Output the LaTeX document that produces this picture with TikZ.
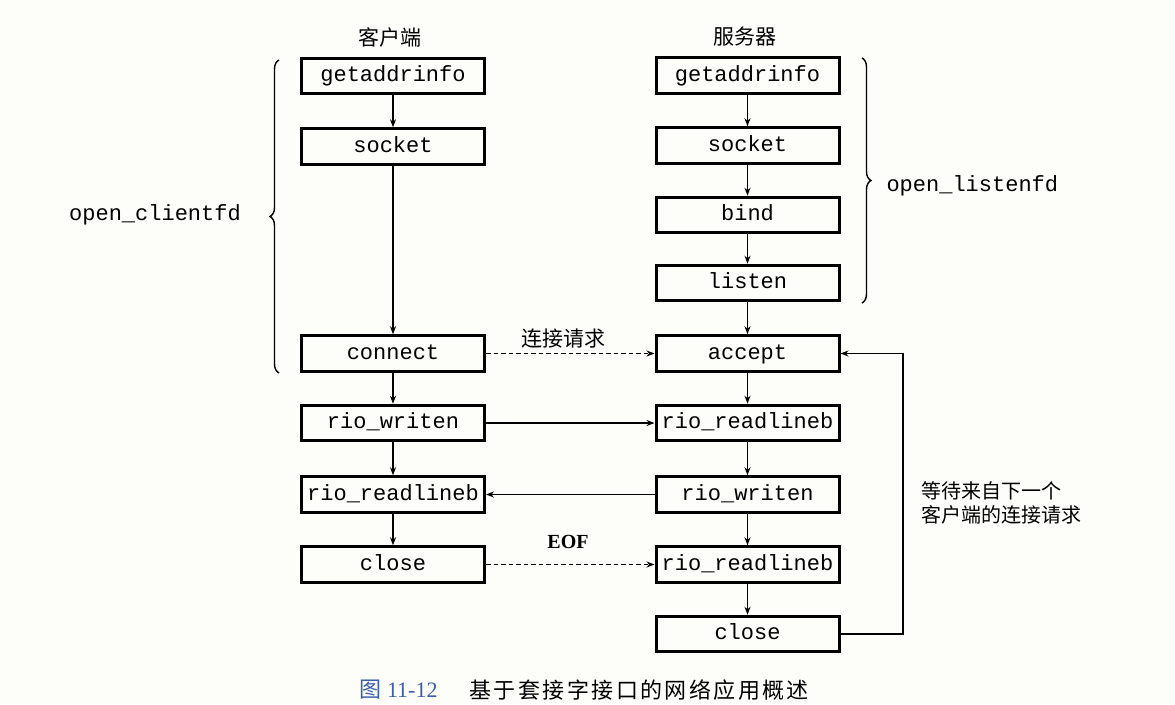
\documentclass[tikz,border=0pt]{standalone}
\usepackage{fontspec}
\setmainfont{Liberation Serif}
\setmonofont{Liberation Mono}
\newfontfamily\cjk{Noto Sans CJK SC}
\usetikzlibrary{arrows.meta,decorations.pathreplacing}
\definecolor{bg}{RGB}{253,253,250}
\definecolor{capblue}{RGB}{60,95,170}
\begin{document}
\begin{tikzpicture}[x=1pt,y=-1pt,
  fn/.style={draw, line width=3pt, minimum width=183pt, minimum height=35.5pt, inner sep=0pt,
    font=\fontsize{22}{26}\selectfont\ttfamily, text height=14pt, text depth=3pt},
  arr/.style={-{Stealth[length=8pt,width=6pt]}, line width=1.35pt},
  darr/.style={arr, dash pattern=on 4.5pt off 3pt},
  head/.style={font=\fontsize{21}{24}\selectfont\cjk},
  lbl/.style={font=\fontsize{20}{24}\selectfont\cjk},
  monolbl/.style={font=\fontsize{22}{26}\selectfont\ttfamily},
  brace/.style={decorate, decoration={brace, amplitude=9pt}, line width=1.4pt}
]
\useasboundingbox[fill=bg] (0,0) rectangle (1175,704);

% headings
\node[head] (hc) at (390,37) {客户端};
\node[head] (hs) at (745,37) {服务器};

% client column
\node[fn] (cga) at (393,76) {getaddrinfo};
\node[fn] (cso) at (393,146.5) {socket};
\node[fn] (ccn) at (393,353.5) {connect};
\node[fn] (cwr) at (393,423) {rio\_writen};
\node[fn] (crl) at (393,494.5) {rio\_readlineb};
\node[fn] (ccl) at (393,564.5) {close};

% server column
\node[fn] (sga) at (747.5,75.5) {getaddrinfo};
\node[fn] (sso) at (747.5,145.5) {socket};
\node[fn] (sbi) at (747.5,215) {bind};
\node[fn] (sli) at (747.5,283) {listen};
\node[fn] (sac) at (747.5,353.5) {accept};
\node[fn] (srl) at (747.5,423) {rio\_readlineb};
\node[fn] (swr) at (747.5,494.5) {rio\_writen};
\node[fn] (srl2) at (747.5,564.5) {rio\_readlineb};
\node[fn] (scl) at (747.5,634) {close};

% vertical arrows client
\draw[arr] (cga) -- (cso);
\draw[arr] (cso) -- (ccn);
\draw[arr] (ccn) -- (cwr);
\draw[arr] (cwr) -- (crl);
\draw[arr] (crl) -- (ccl);

% vertical arrows server
\draw[arr] (sga) -- (sso);
\draw[arr] (sso) -- (sbi);
\draw[arr] (sbi) -- (sli);
\draw[arr] (sli) -- (sac);
\draw[arr] (sac) -- (srl);
\draw[arr] (srl) -- (swr);
\draw[arr] (swr) -- (srl2);
\draw[arr] (srl2) -- (scl);

% horizontal
\draw[darr] (ccn) -- (sac);
\node[font=\fontsize{21}{24}\selectfont\cjk] (req) at (563,339) {连接请求};
\draw[arr] (cwr) -- (srl);
\draw[arr] (swr) -- (crl);
\draw[darr] (ccl) -- (srl2);
\node[font=\fontsize{20}{24}\selectfont\bfseries] (eof) at (568,542) {EOF};

% loop back
\coordinate (loop) at (903,0);
\draw[arr] (scl.east) -- (scl.east -| loop) -- (sac.east -| loop) -- (sac.east);
\node[lbl, anchor=west, align=left] (wait) at (918,503) {等待来自下一个\\客户端的连接请求};

% braces
\coordinate (lb1) at (279,373);
\coordinate (lb2) at (279,60);
\draw[brace] (lb1) -- (lb2);
\node[monolbl] (ocf) at (155,215) {open\_clientfd};
\coordinate (rb1) at (862,58);
\coordinate (rb2) at (862,303);
\draw[brace] (rb1) -- (rb2);
\node[monolbl, anchor=west] (olf) at (883,186) {open\_listenfd};

% caption
\node[anchor=west, text=capblue, font=\fontsize{22}{26}\selectfont] (capn) at (356,690) {{\cjk 图} 11-12};
\node[anchor=west, font=\fontsize{22}{26}\selectfont\cjk] (capt) at (466,690) {\addfontfeature{LetterSpace=11}基于套接字接口的网络应用概述};
\end{tikzpicture}
\end{document}
